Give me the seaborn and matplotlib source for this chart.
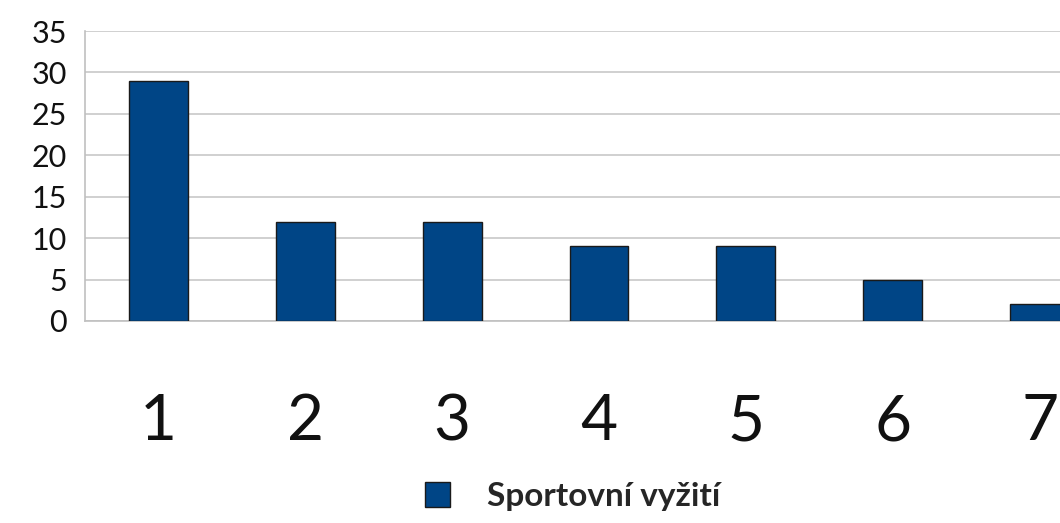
import pandas as pd
import matplotlib
matplotlib.use('Agg')
import matplotlib.pyplot as plt
import seaborn as sns

categories = ['1', '2', '3', '4', '5', '6', '7']
values = [29, 12, 12, 9, 9, 5, 2]
series_name = 'Sportovní vyžití'

df = pd.DataFrame({'kategorie': categories, 'hodnota': values})

sns.set_style('white')
plt.rcParams['font.family'] = ['Lato', 'DejaVu Sans']

fig = plt.figure(figsize=(10.6, 5.23), dpi=100)
# plot area runs past the right edge (the original is cropped there)
ax = fig.add_axes([85 / 1060, 202 / 523, 1028 / 1060, 290 / 523])

sns.barplot(data=df, x='kategorie', y='hodnota', color='#004586', width=0.4,
            edgecolor='#1a1a1a', linewidth=1, saturation=1, ax=ax,
            label=series_name, zorder=3)

ax.set_ylim(0, 35)
ax.set_yticks(range(0, 36, 5))
ax.set_xlim(-0.5, 6.5)
ax.yaxis.grid(True, color='#c8c8c8', linewidth=1.2, zorder=0)
ax.set_axisbelow(True)
for s in ['top', 'right']:
    ax.spines[s].set_visible(False)
for s in ['left', 'bottom']:
    ax.spines[s].set_color('#c0c0c0')
    ax.spines[s].set_linewidth(1.2)
ax.tick_params(axis='y', length=0, labelsize=22, pad=13, labelcolor='#111111')
ax.tick_params(axis='x', length=0, labelsize=46, pad=52, labelcolor='#111111')
ax.set_xlabel('')
ax.set_ylabel('')
if ax.get_legend():
    ax.get_legend().remove()

handles, labels = ax.get_legend_handles_labels()
fig.legend(handles, labels, loc='lower center', bbox_to_anchor=(0.54, -0.035),
           frameon=False, handlelength=0.75, handleheight=0.75, handletextpad=1.1,
           prop={'size': 24, 'weight': 'bold'})

fig.savefig('out.png', dpi=100)
